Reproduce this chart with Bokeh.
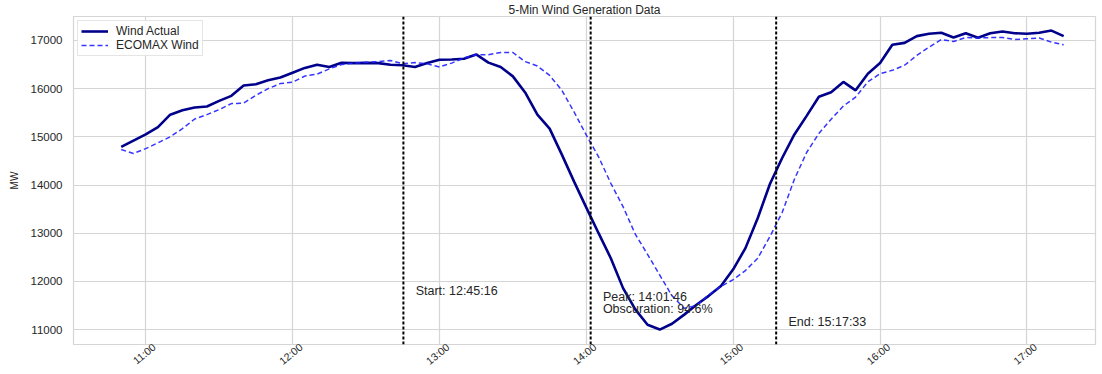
import math
from datetime import datetime
from bokeh.plotting import figure
from bokeh.models import (Range1d, FixedTicker, DatetimeTickFormatter, Legend, LegendItem,
                          DatetimeAxis, Span, ColumnDataSource)
from bokeh.core.properties import value
from bokeh.embed import file_html
from bokeh.resources import INLINE

DATE = "2024-04-08"

times = ["10:50", "10:55", "11:00", "11:05", "11:10", "11:15", "11:20", "11:25", "11:30", "11:35",
         "11:40", "11:45", "11:50", "11:55", "12:00", "12:05", "12:10", "12:15", "12:20", "12:25",
         "12:30", "12:35", "12:40", "12:45", "12:50", "12:55", "13:00", "13:05", "13:10", "13:15",
         "13:20", "13:25", "13:30", "13:35", "13:40", "13:45", "13:50", "13:55", "14:00", "14:05",
         "14:10", "14:15", "14:20", "14:25", "14:30", "14:35", "14:40", "14:45", "14:50", "14:55",
         "15:00", "15:05", "15:10", "15:15", "15:20", "15:25", "15:30", "15:35", "15:40", "15:45",
         "15:50", "15:55", "16:00", "16:05", "16:10", "16:15", "16:20", "16:25", "16:30", "16:35",
         "16:40", "16:45", "16:50", "16:55", "17:00", "17:05", "17:10", "17:15"]

wind_actual = [14790, 14920, 15050, 15200, 15460, 15550, 15610, 15630, 15745, 15850,
               16065, 16090, 16175, 16230, 16330, 16430, 16495, 16450, 16535, 16530,
               16535, 16530, 16495, 16485, 16450, 16530, 16600, 16605, 16620, 16710,
               16540, 16450, 16255, 15920, 15460, 15170, 14630, 14070, 13530, 13000,
               12480, 11860, 11420, 11100, 11000, 11120, 11310, 11515, 11700, 11905,
               12250, 12690, 13310, 14020, 14560, 15050, 15435, 15830, 15925, 16140,
               15965, 16310, 16530, 16910, 16950, 17090, 17140, 17160, 17060, 17150,
               17055, 17150, 17185, 17150, 17140, 17160, 17205, 17090]

ecomax_wind = [14735, 14655, 14755, 14875, 15000, 15170, 15370, 15460, 15565, 15690,
               15700, 15860, 16000, 16105, 16135, 16260, 16300, 16410, 16500, 16530,
               16545, 16560, 16585, 16515, 16540, 16515, 16450, 16530, 16635, 16705,
               16705, 16750, 16750, 16560, 16470, 16275, 15965, 15515, 15035, 14585,
               14035, 13550, 12980, 12560, 12130, 11700, 11440, 11500, 11720, 11895,
               12035, 12225, 12480, 12930, 13430, 14120, 14675, 15070, 15365, 15640,
               15825, 16140, 16310, 16380, 16485, 16690, 16860, 17020, 16980, 17060,
               17050, 17060, 17060, 17020, 17035, 17050, 16965, 16910]

tick_labels = ["11:00", "12:00", "13:00", "14:00", "15:00", "16:00", "17:00"]
y_ticks = [11000, 12000, 13000, 14000, 15000, 16000, 17000]

event_times = ["12:45:16", "14:01:46", "15:17:33"]
event_texts = ["Start: 12:45:16", "Peak: 14:01:46\nObscuration: 94.6%", "End: 15:17:33"]
event_text_times = ["12:50:16", "14:06:46", "15:22:33"]
event_text_y = [11800, 11560, 11150]

x_window = ["10:30:30", "17:28:00"]
y_window = [10690, 17497]

EPOCH = datetime(1970, 1, 1)


def dt(s):
    fmt = "%Y-%m-%d %H:%M:%S" if s.count(":") == 2 else "%Y-%m-%d %H:%M"
    return datetime.strptime(f"{DATE} {s}", fmt)


def ms(s):
    return (dt(s) - EPOCH).total_seconds() * 1000.0


FONT = "Liberation Sans"
TXT = "#262626"
GRID = "#d5d5d5"

p = figure(width=1102, height=374, output_backend="svg", toolbar_location=None,
           x_range=Range1d(ms(x_window[0]), ms(x_window[1])),
           y_range=Range1d(y_window[0], y_window[1]),
           min_border_left=73, min_border_right=7, min_border_top=14, min_border_bottom=26)

p.title.text = "5-Min Wind Generation Data"
p.title.align = "center"
p.title.text_font = FONT
p.title.text_font_size = "12px"
p.title.text_font_style = "normal"
p.title.text_color = TXT
p.title.standoff = 0
p.title.offset = 0

p.outline_line_color = GRID
p.outline_line_width = 1.2
p.background_fill_color = "white"
p.border_fill_color = "white"

x_ticker = FixedTicker(ticks=[ms(t) for t in tick_labels])
p.xaxis.ticker = x_ticker
p.xgrid.ticker = x_ticker
p.xaxis.visible = False
p.yaxis.ticker = FixedTicker(ticks=y_ticks)

p.xgrid.grid_line_color = GRID
p.ygrid.grid_line_color = GRID
p.xgrid.grid_line_width = 1.2
p.ygrid.grid_line_width = 1.2

ya = p.yaxis[0]
ya.axis_line_color = None
ya.major_tick_line_color = None
ya.minor_tick_line_color = None
ya.major_tick_out = 0
ya.major_tick_in = 0
ya.major_label_text_font = FONT
ya.major_label_text_font_size = "11.5px"
ya.major_label_text_color = TXT
ya.major_label_standoff = 11
ya.axis_label = "MW"
ya.axis_label_text_font = FONT
ya.axis_label_text_font_size = "10px"
ya.axis_label_text_font_style = "normal"
ya.axis_label_text_color = TXT
ya.axis_label_standoff = 8

# label axis on a range shifted a few minutes so the rotated labels sit centred under the grid lines
label_shift = 3.4 * 60 * 1000
p.extra_x_ranges = {"labels": Range1d(ms(x_window[0]) - label_shift, ms(x_window[1]) - label_shift)}
xa = DatetimeAxis(x_range_name="labels", ticker=FixedTicker(ticks=[ms(t) for t in tick_labels]),
                  formatter=DatetimeTickFormatter(hours="%H:%M", hourmin="%H:%M", minutes="%H:%M",
                                                  days="%H:%M"))
xa.axis_line_color = None
xa.major_tick_line_color = None
xa.minor_tick_line_color = None
xa.major_tick_out = 0
xa.major_tick_in = 0
xa.major_label_orientation = 0.68
xa.major_label_standoff = 1
xa.major_label_text_font = FONT
xa.major_label_text_font_size = "10.5px"
xa.major_label_text_color = TXT
p.add_layout(xa, "below")

src = ColumnDataSource(dict(x=[ms(t) for t in times], actual=wind_actual, ecomax=ecomax_wind))
r1 = p.line("x", "actual", source=src, line_color="#00008B", line_width=2.6)
r2 = p.line("x", "ecomax", source=src, line_color="#1f1fff", line_width=1.5,
            line_dash="5 3", line_alpha=0.9)

for t in event_times:
    p.add_layout(Span(location=ms(t), dimension="height",
                      line_color="black", line_width=2, line_dash="3 2"))

tsrc = ColumnDataSource(dict(x=[ms(t) for t in event_text_times], y=event_text_y, text=event_texts))
p.text("x", "y", text="text", source=tsrc, text_font=value(FONT), text_font_size="12.5px",
       text_color=TXT, text_baseline="middle", text_align="left", text_line_height=0.85)

legend = Legend(items=[LegendItem(label="Wind Actual", renderers=[r1]),
                       LegendItem(label="ECOMAX Wind", renderers=[r2])],
                location="top_left")
legend.label_text_font = FONT
legend.label_text_font_size = "12px"
legend.label_text_line_height = 0.9
legend.label_text_color = TXT
legend.glyph_width = 27
legend.glyph_height = 12
legend.label_height = 12
legend.spacing = 0
legend.padding = 3
legend.margin = 4
legend.label_standoff = 8
legend.border_line_color = "#cccccc"
legend.background_fill_alpha = 0.85
p.add_layout(legend)

open("out.html", "w").write(file_html(p, INLINE))
